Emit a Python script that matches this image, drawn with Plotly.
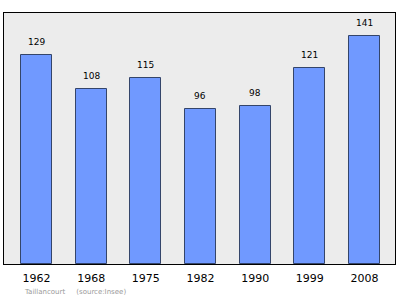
import plotly.graph_objects as go

years = ["1962", "1968", "1975", "1982", "1990", "1999", "2008"]
population = [129, 108, 115, 96, 98, 121, 141]
place = "Taillancourt"
source = "(source:Insee)"

fig = go.Figure()
fig.add_trace(go.Bar(
    x=list(range(len(years))),
    y=population,
    width=0.567,
    marker=dict(color="#7099ff", line=dict(color="#34456a", width=1)),
    hoverinfo="x+y",
))

for i, v in enumerate(population):
    fig.add_annotation(
        x=i, y=v, text=str(v), showarrow=False,
        yanchor="bottom", yshift=6,
        font=dict(family="DejaVu Sans", size=9, color="black"),
    )

fig.update_layout(
    width=400, height=299,
    margin=dict(l=4, r=5, t=13, b=35),
    paper_bgcolor="white",
    plot_bgcolor="#ececec",
    showlegend=False,
    bargap=0,
    xaxis=dict(
        range=[-0.594, 6.558],
        tickmode="array",
        tickvals=list(range(len(years))),
        ticktext=years,
        showgrid=False, zeroline=False,
        tickfont=dict(family="DejaVu Sans", size=11, color="black"),
        ticks="outside", ticklen=4, tickcolor="rgba(0,0,0,0)",
        showline=True, linecolor="black", linewidth=1, mirror=True,
    ),
    yaxis=dict(
        range=[0, 155.2],
        showgrid=False, zeroline=False, showticklabels=False,
        showline=True, linecolor="black", linewidth=1, mirror=True,
    ),
)

fig.add_annotation(
    text=place + "\u00a0" * 5 + source, xref="paper", yref="paper",
    x=(22 - 4) / 391, y=-(292 - 264) / 251, xanchor="left", yanchor="middle",
    showarrow=False,
    font=dict(family="DejaVu Sans", size=7, color="#999999"),
)

fig.write_html("out.html")
